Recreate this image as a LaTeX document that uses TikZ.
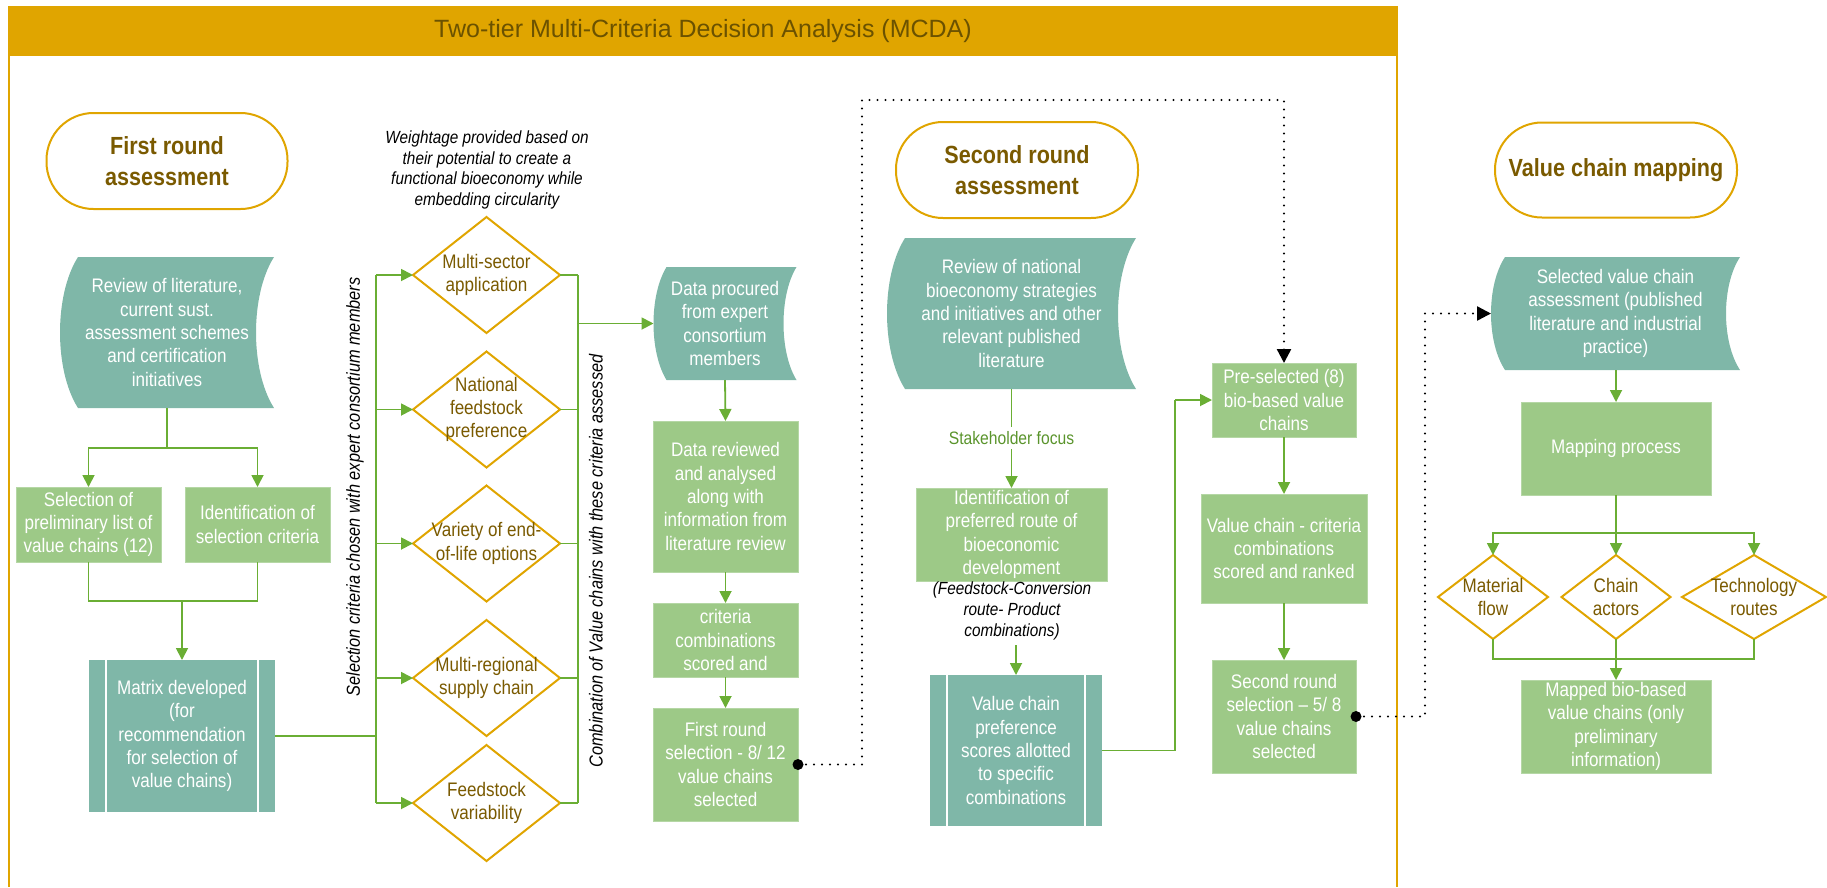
\documentclass[tikz,border=0pt]{standalone}
\usepackage{fontspec}
\setmainfont{Liberation Sans}
\newfontfamily\cond[FakeStretch=0.87]{Liberation Sans}
\usetikzlibrary{arrows.meta,backgrounds}
\definecolor{gold}{HTML}{E0A500}
\definecolor{tealc}{HTML}{7FB7A8}
\definecolor{greenbox}{HTML}{9DC987}
\definecolor{greenline}{HTML}{6AAE34}
\definecolor{brownt}{HTML}{7A5A00}
\definecolor{titlet}{HTML}{6B5200}

\newcommand\StoredNode[6]{%
  \node[storedtext, minimum width=#3, minimum height=#4] (#1) at (#2) {#6};
  \begin{pgfonlayer}{background}
    \fill[tealc] ([xshift=#5]#1.north west)
      .. controls ([xshift=-0.333*#5, yshift=-0.25*#4]#1.north west) and ([xshift=-0.333*#5, yshift=0.25*#4]#1.south west) ..
      ([xshift=#5]#1.south west) -- (#1.south east)
      .. controls ([xshift=-1.333*#5, yshift=0.25*#4]#1.south east) and ([xshift=-1.333*#5, yshift=-0.25*#4]#1.north east) ..
      (#1.north east) -- cycle;
  \end{pgfonlayer}}

\newcommand\DiaNode[5]{%
  \node[diatext, minimum width=#3, minimum height=#4] (#1) at (#2) {#5};
  \begin{pgfonlayer}{background}
    \draw[diaborder] (#1.north) -- (#1.east) -- (#1.south) -- (#1.west) -- cycle;
  \end{pgfonlayer}}

\tikzset{
  boxtext/.style={font=\cond\fontsize{19.6}{23.3}\selectfont, text=white, align=center, inner sep=0pt, outer sep=0pt},
  gbox/.style={boxtext, fill=greenbox, draw=greenbox!75!white, line width=0.8pt},
  storedtext/.style={boxtext},
  ppbox/.style={boxtext, fill=tealc},
  ppline/.style={white, line width=1.6pt},
  diatext/.style={font=\cond\fontsize{19.6}{23.3}\selectfont, text=brownt, align=center, inner sep=0pt, outer sep=0pt},
  diaborder/.style={draw=gold, fill=white, line width=2pt, line join=miter},
  pill/.style={draw=gold, line width=2pt, fill=white, rounded corners=47pt, font=\cond\bfseries\fontsize{24.8}{31}\selectfont, text=brownt, align=center, inner sep=0pt},
  gl/.style={draw=greenline, line width=1.8pt},
  garrow/.style={gl, -{Triangle[length=12pt,width=12pt]}},
  dotline/.style={black, line width=2.4pt, line cap=round, dash pattern=on 0pt off 8pt},
  darrow/.style={dotline, -{Triangle[length=14pt,width=14pt]}},
  ital/.style={font=\cond\itshape\fontsize{17.6}{20.6}\selectfont, align=center, inner sep=0pt},
  rotlab/.style={font=\cond\itshape\fontsize{18.8}{20}\selectfont, rotate=90, inner sep=0pt}
}

\begin{document}
\begin{tikzpicture}[x=1pt, y=-1pt]
\useasboundingbox (0,0) rectangle (1827,887);

% frame and header
\draw[gold, line width=2.2pt] (9,56) -- (9,887);
\draw[gold, line width=2.2pt] (1397,56) -- (1397,887);
\fill[gold] (8,6) rectangle (1398,56);
\node[font=\fontsize{25}{30}\selectfont, text=titlet] (title) at (703,31) {Two-tier Multi-Criteria Decision Analysis (MCDA)};

% pills
\node[pill, minimum width=241pt, minimum height=96pt] (p1) at (167,161) {First round\\assessment};
\node[pill, minimum width=242pt, minimum height=96pt] (p2) at (1017,170) {Second round\\assessment};
\node[pill, minimum width=242pt, minimum height=95pt] (p3) at (1616,170) {Value chain mapping};

% weightage text
\node[ital] (wt) at (487,170) {Weightage provided based on\\their potential to create a\\functional bioeconomy while\\embedding circularity};

% first round column
\StoredNode{rev1}{167,332.5}{214pt}{151pt}{18pt}{Review of literature,\\current sust.\\assessment schemes\\and certification\\initiatives}
\node[gbox, minimum width=145pt, minimum height=75pt] (sel12) at (88.5,524.5) {Selection of\\preliminary list of\\value chains (12)};
\node[gbox, minimum width=145pt, minimum height=75pt] (idsel) at (257.5,524.5) {Identification of\\selection criteria};
\node[ppbox, minimum width=186pt, minimum height=152pt] (matrix) at (182,736) {Matrix developed\\(for\\recommendation\\for selection of\\value chains)};
\draw[ppline] ([xshift=17pt]matrix.north west) -- ([xshift=17pt]matrix.south west);
\draw[ppline] ([xshift=-17pt]matrix.north east) -- ([xshift=-17pt]matrix.south east);

\coordinate (j1) at (167,448);
\coordinate (j2) at (182,601);
\draw[gl] (rev1.south) -- (j1);
\draw[garrow] (j1) -| (sel12.north);
\draw[garrow] (j1) -| (idsel.north);
\draw[gl] (sel12.south) |- (j2) -| (idsel.south);
\draw[garrow] (j2) -- (matrix.north);

% diamonds of first round
\DiaNode{d1}{486.5,275}{147pt}{116pt}{Multi-sector\\application}
\DiaNode{d2}{486.5,409.5}{147pt}{116pt}{National\\feedstock\\preference}
\DiaNode{d3}{486.5,543.5}{147pt}{116pt}{Variety of end-\\of-life options}
\DiaNode{d4}{486.5,678}{147pt}{116pt}{Multi-regional\\supply chain}
\DiaNode{d5}{486.5,803}{147pt}{116pt}{Feedstock\\variability}

\node[rotlab] (rot1) at (355,487) {Selection criteria chosen with expert consortium members};
\node[rotlab] (rot2) at (596,561) {Combination of Value chains with these criteria assessed};

\coordinate (lbtop) at (376,275);
\coordinate (lbbot) at (376,803);
\coordinate (rbtop) at (578,275);
\coordinate (rbbot) at (578,803);
\draw[gl] (lbtop) -- (lbbot);
\draw[gl] (matrix.east) -- (matrix.east -| lbtop);
\foreach \d in {d1,d2,d3,d4,d5}{
  \draw[garrow] (\d.west -| lbtop) -- (\d.west);
  \draw[gl] (\d.east) -- (\d.east -| rbtop);
}
\draw[gl] (rbtop) -- (rbbot);

% data column
\StoredNode{dproc}{725,323.5}{143pt}{113pt}{13pt}{Data procured\\from expert\\consortium\\members}
\draw[garrow] (dproc.west -| rbtop) -- (dproc.west);
\node[gbox, minimum width=145pt, minimum height=151pt] (dreview) at (725.5,496.5) {Data reviewed\\and analysed\\along with\\information from\\literature review};
\node[gbox, minimum width=145pt, minimum height=74pt] (crit) at (725.5,640) {criteria\\combinations\\scored and};
\node[gbox, minimum width=145pt, minimum height=113pt] (first) at (725.5,764.5) {First round\\selection - 8/ 12\\value chains\\selected};
\draw[garrow] (dproc.south) -- (dreview.north);
\draw[garrow] (dreview.south) -- (crit.north);
\draw[garrow] (crit.south) -- (first.north);

% second round column
\StoredNode{rev2}{1011.5,313.5}{249pt}{151pt}{18pt}{Review of national\\bioeconomy strategies\\and initiatives and other\\relevant published\\literature}
\node[font=\cond\fontsize{18}{19}\selectfont, text=greenline!85!black, inner sep=4pt] (stake) at (1011.5,438) {Stakeholder focus};
\node[gbox, minimum width=191pt, minimum height=93pt] (idpref) at (1011.5,534.5) {Identification of\\preferred route of\\bioeconomic\\development};
\node[ital, font=\cond\itshape\fontsize{17.6}{21}\selectfont] (fcl) at (1012,611) {(Feedstock-Conversion\\route- Product\\combinations)};
\node[ppbox, minimum width=172pt, minimum height=151pt] (pref) at (1016,750.5) {Value chain\\preference\\scores allotted\\to specific\\combinations};
\draw[ppline] ([xshift=17pt]pref.north west) -- ([xshift=17pt]pref.south west);
\draw[ppline] ([xshift=-17pt]pref.north east) -- ([xshift=-17pt]pref.south east);
\draw[gl] (rev2.south) -- (stake.north);
\draw[garrow] (stake.south) -- (idpref.north);
\draw[garrow] ([yshift=-5pt]fcl.south -| pref.north) -- (pref.north);

\node[gbox, minimum width=144pt, minimum height=74pt] (presel) at (1284,400) {Pre-selected (8)\\bio-based value\\chains};
\node[gbox, minimum width=166pt, minimum height=109pt] (vccomb) at (1284,548.5) {Value chain - criteria\\combinations\\scored and ranked};
\node[gbox, minimum width=144pt, minimum height=113pt] (second) at (1284,716.5) {Second round\\selection – 5/ 8\\value chains\\selected};
\coordinate (pj) at (1175,400);
\draw[gl] (pref.east) -| (pj);
\draw[garrow] (pj) -- (presel.west);
\draw[garrow] (presel.south) -- (vccomb.north);
\draw[garrow] (vccomb.south) -- (second.north);

% value chain mapping column
\StoredNode{sel}{1615.5,313.5}{249pt}{113pt}{14pt}{Selected value chain\\assessment (published\\literature and industrial\\practice)}
\node[gbox, minimum width=190pt, minimum height=93pt] (mapproc) at (1616,448.5) {Mapping process};
\DiaNode{mf}{1493,597}{110pt}{84pt}{Material\\flow}
\DiaNode{ca}{1616,597}{109pt}{84pt}{Chain\\actors}
\DiaNode{tr}{1754,597}{144pt}{84pt}{Technology\\routes}
\node[gbox, minimum width=190pt, minimum height=93pt] (mapped) at (1616,726.5) {Mapped bio-based\\value chains (only\\preliminary\\information)};
\coordinate (mb) at (1616,533);
\coordinate (mb2) at (1616,659);
\draw[garrow] (sel.south -| mapproc.north) -- (mapproc.north);
\draw[gl] (mapproc.south) -- (mb);
\draw[garrow] (mb) -| (mf.north);
\draw[garrow] (mb) -| (tr.north);
\draw[garrow] (mb) -- (ca.north);
\draw[gl] (mf.south) |- (mb2) -| (tr.south);
\draw[garrow] (ca.south) -- (mapped.north);

% dotted links
\coordinate (dt1) at (862,100);
\coordinate (dt2) at (1284,100);
\draw[darrow] (first.east) -| (dt1) -- (dt2) -- (presel.north);
\fill (first.east) circle (5.5pt);
\coordinate (dt3) at (1425,313.5);
\draw[darrow] (second.east) -| (dt3) -- (sel.west);
\fill (second.east) circle (5.5pt);
\end{tikzpicture}
\end{document}
